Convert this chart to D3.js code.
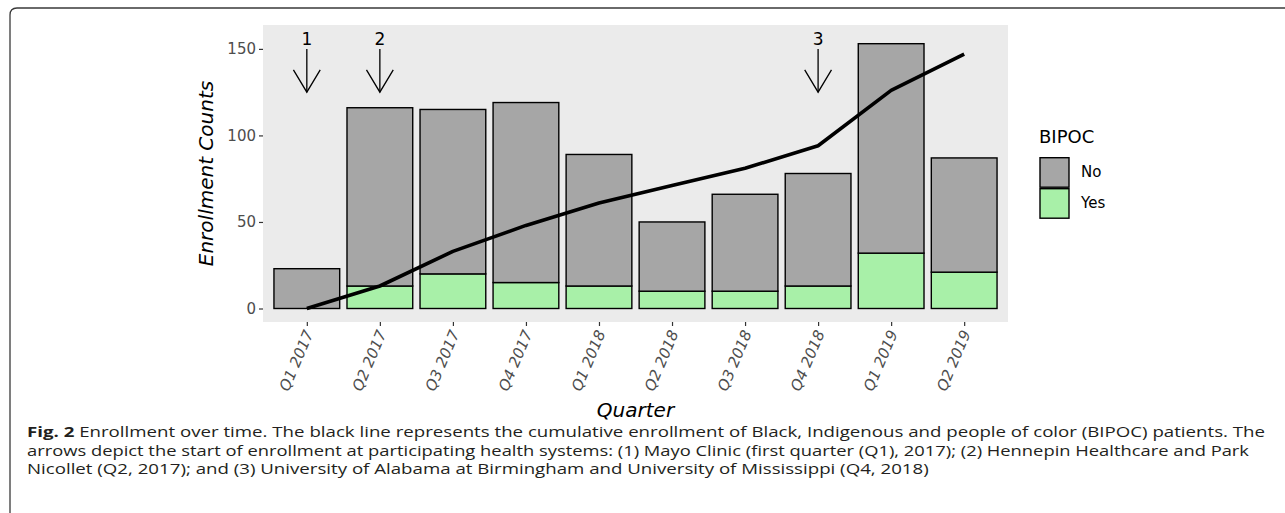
<!DOCTYPE html>
<html>
<head>
<meta charset="utf-8">
<script src="https://cdn.jsdelivr.net/npm/d3@7"></script>
<style>
  html, body { margin: 0; padding: 0; background: #ffffff; }
  svg { display: block; }
</style>
</head>
<body>
<svg id="chart" width="1285" height="513"></svg>
<script>
// ---------------- data ----------------
const quarters = ["Q1 2017", "Q2 2017", "Q3 2017", "Q4 2017", "Q1 2018",
                  "Q2 2018", "Q3 2018", "Q4 2018", "Q1 2019", "Q2 2019"];
const yesCounts = [0, 13, 20, 15, 13, 10, 10, 13, 32, 21];
const noCounts  = [23, 103, 95, 104, 76, 40, 56, 65, 121, 66];
const cumulativeBipoc = [0, 13, 33, 48, 61, 71, 81, 94, 126, 147];
const yTicks = [0, 50, 100, 150];
const arrowQuarters = ["Q1 2017", "Q2 2017", "Q4 2018"];
const arrowLabels = ["1", "2", "3"];
const arrowTop = 150, arrowTip = 125, arrowLabelValue = 156;
const legendTitle = "BIPOC";
const legendLabels = ["No", "Yes"];
const captionBold = "Fig. 2";
const captionLines = [
  "Enrollment over time. The black line represents the cumulative enrollment of Black, Indigenous and people of color (BIPOC) patients. The",
  "arrows depict the start of enrollment at participating health systems: (1) Mayo Clinic (first quarter (Q1), 2017); (2) Hennepin Healthcare and Park",
  "Nicollet (Q2, 2017); and (3) University of Alabama at Birmingham and University of Mississippi (Q4, 2018)"
];

// ---------------- layout ----------------
const svg = d3.select("#chart");
const panel = { left: 263, right: 1008, top: 25, bottom: 322 };
const colors = { No: "#a6a6a6", Yes: "#a8f0a8" };
const font = "'DejaVu Sans', sans-serif";

// frame
svg.append("path")
  .attr("d", "M10,513 L10,15 Q10,8 17,8 L1285,8")
  .attr("fill", "none").attr("stroke", "#3a3a3a").attr("stroke-width", 1.3);

// panel background
svg.append("rect")
  .attr("x", panel.left).attr("y", panel.top)
  .attr("width", panel.right - panel.left).attr("height", panel.bottom - panel.top)
  .attr("fill", "#ebebeb");

const x = d3.scalePoint().domain(quarters).range([panel.left, panel.right]).padding(0.6);
const step = x.step();
const barW = step * 0.9;
const yMax = 156;
const y = d3.scaleLinear().domain([-0.05 * yMax, yMax * 1.05]).range([panel.bottom, panel.top]);

// stacked bars
const rows = quarters.map((q, i) => ({ q, No: noCounts[i], Yes: yesCounts[i] }));
const stack = d3.stack().keys(["Yes", "No"])(rows);
const g = svg.append("g");
stack.forEach(layer => {
  g.selectAll(null).data(layer).enter().append("rect")
    .attr("x", d => x(d.data.q) - barW / 2)
    .attr("width", barW)
    .attr("y", d => y(d[1]))
    .attr("height", d => Math.max(0, y(d[0]) - y(d[1])))
    .attr("fill", colors[layer.key])
    .attr("stroke", "#000").attr("stroke-width", 1.4)
    .style("display", d => (d[1] - d[0]) > 0 ? null : "none");
});

// cumulative line
const line = d3.line().x((d, i) => x(quarters[i])).y(d => y(d));
svg.append("path").datum(cumulativeBipoc)
  .attr("d", line).attr("fill", "none")
  .attr("stroke", "#000").attr("stroke-width", 3.6)
  .attr("stroke-linejoin", "round");

// arrows
const arrowG = svg.append("g");
arrowQuarters.forEach((q, i) => {
  const ax = x(q), y0 = y(arrowTop), y1 = y(arrowTip);
  const len = 26, ang = 31 * Math.PI / 180;
  arrowG.append("line").attr("x1", ax).attr("x2", ax).attr("y1", y0).attr("y2", y1)
    .attr("stroke", "#000").attr("stroke-width", 1.3);
  arrowG.append("path")
    .attr("d", `M${ax - len * Math.sin(ang)},${y1 - len * Math.cos(ang)} L${ax},${y1} L${ax + len * Math.sin(ang)},${y1 - len * Math.cos(ang)}`)
    .attr("fill", "none").attr("stroke", "#000").attr("stroke-width", 1.3);
  arrowG.append("text").attr("x", ax).attr("y", y(arrowLabelValue))
    .attr("dy", "0.36em").attr("text-anchor", "middle")
    .style("font-family", font).style("font-size", "17px").attr("fill", "#000")
    .text(arrowLabels[i]);
});

// y axis
const yAxis = d3.axisLeft(y).tickValues(yTicks).tickSize(4).tickPadding(3);
const yg = svg.append("g").attr("transform", `translate(${panel.left},0)`).call(yAxis);
yg.select(".domain").remove();
yg.selectAll(".tick line").attr("stroke", "#333").attr("stroke-width", 1.2);
yg.selectAll(".tick text").attr("fill", "#4d4d4d").style("font-family", font).style("font-size", "15px");

// x axis
const xAxis = d3.axisBottom(x).tickSize(4).tickFormat(() => "");
const xg = svg.append("g").attr("transform", `translate(0,${panel.bottom})`).call(xAxis);
xg.select(".domain").remove();
xg.selectAll(".tick line").attr("stroke", "#333").attr("stroke-width", 1.2);
svg.append("g").selectAll("text").data(quarters).enter().append("text")
  .attr("transform", d => `translate(${x(d) + 2},${panel.bottom + 9}) rotate(-67)`)
  .attr("text-anchor", "end").attr("dy", "0.35em")
  .attr("fill", "#4d4d4d").style("font-family", font).style("font-size", "15px")
  .style("font-style", "italic")
  .text(d => d);

// axis titles
svg.append("text")
  .attr("transform", `translate(213,${(panel.top + panel.bottom) / 2}) rotate(-90)`)
  .attr("text-anchor", "middle")
  .style("font-family", font).style("font-size", "20px").style("font-style", "italic")
  .attr("fill", "#000").text("Enrollment Counts");
svg.append("text")
  .attr("x", (panel.left + panel.right) / 2).attr("y", 417)
  .attr("text-anchor", "middle")
  .style("font-family", font).style("font-size", "20px").style("font-style", "italic")
  .attr("fill", "#000").text("Quarter");

// legend
const lg = svg.append("g");
lg.append("text").attr("x", 1039).attr("y", 143)
  .style("font-family", font).style("font-size", "18px").attr("fill", "#000").text(legendTitle);
legendLabels.forEach((lab, i) => {
  const ky = 157 + i * 31;
  lg.append("rect").attr("x", 1040).attr("y", ky + 0.7).attr("width", 29).attr("height", 29.5)
    .attr("fill", colors[lab]).attr("stroke", "#000").attr("stroke-width", 1.4);
  lg.append("text").attr("x", 1081).attr("y", ky + 15).attr("dy", "0.36em")
    .style("font-family", font).style("font-size", "15px").attr("fill", "#000").text(lab);
});

// caption (justified lines 1-2, natural last line, all compressed by the same factor)
const capFont = "'Open Sans', 'Noto Sans', sans-serif";
const capTarget = [1238, 1222];
const capY = [437, 455.5, 474];
const capNodes = captionLines.map((txt, i) => {
  const t = svg.append("text").attr("x", 27).attr("y", capY[i])
    .style("font-family", capFont).style("font-size", "14.5px").attr("fill", "#231f20");
  if (i === 0) {
    t.append("tspan").style("font-weight", "bold").text(captionBold + "  ");
    t.append("tspan").text(txt);
  } else {
    t.text(txt);
  }
  return t;
});
const natural = capNodes.map(t => t.node().getComputedTextLength());
const factor = capTarget[0] / natural[0];
capNodes.forEach((t, i) => {
  const w = i < 2 ? capTarget[i] : natural[i] * factor;
  t.attr("textLength", w).attr("lengthAdjust", "spacingAndGlyphs");
});
</script>
</body>
</html>
